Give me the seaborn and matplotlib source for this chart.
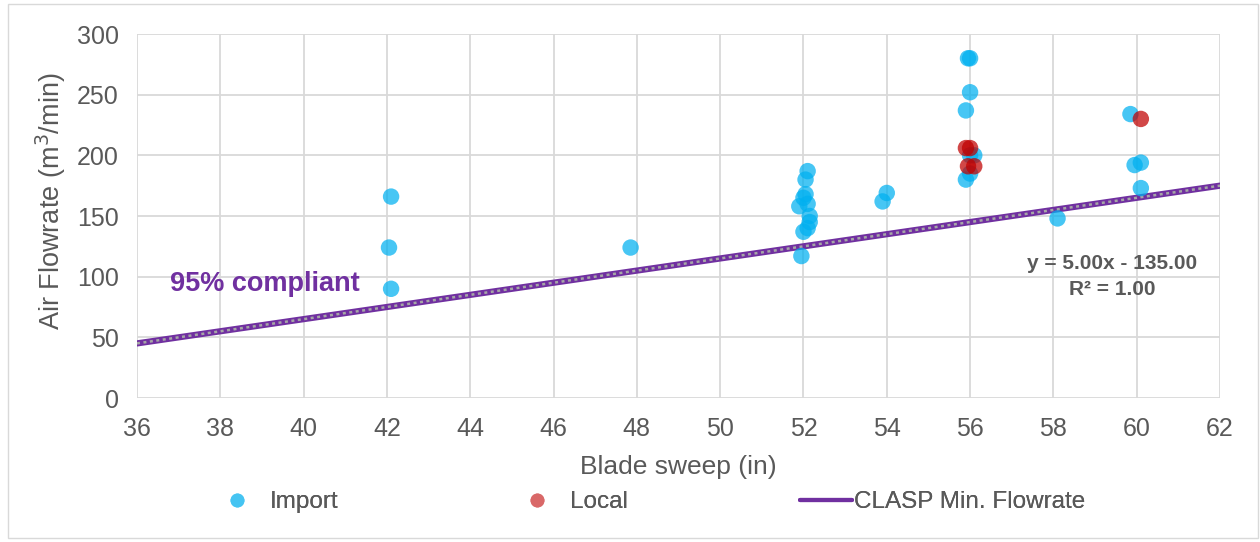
import pandas as pd
import matplotlib.pyplot as plt
import matplotlib.patches as mpatches
from matplotlib.lines import Line2D
import seaborn as sns

# blade sweep (in) / air flowrate (m3/min)
import_x = [42.1, 42.05, 42.1, 47.85,
            52.1, 52.05, 52.05, 52.0, 51.9, 52.1, 52.15, 52.15, 52.1, 52.0, 51.95,
            53.9, 54.0,
            55.95, 56.0, 56.0, 55.9, 56.0, 56.1, 56.0, 55.9,
            58.1, 59.85, 59.95, 60.1, 60.1]
import_y = [166, 124, 90, 124,
            187, 180, 168, 165, 158, 160, 150, 145, 140, 137, 117,
            162, 169,
            280, 280, 252, 237, 200, 200, 185, 180,
            148, 234, 192, 194, 173]
local_x = [55.9, 56.0, 55.95, 56.1, 60.1]
local_y = [206, 206, 191, 191, 230]

# CLASP minimum flowrate trendline
slope = 5.0
intercept = -135.0
line_x = [36, 62]

text_grey = '#595959'
purple = '#7030A0'
blue = '#00B0F0'
red = '#C00000'

sns.set_theme(style='whitegrid')
plt.rcParams['font.family'] = ['Liberation Sans', 'DejaVu Sans']

df = pd.DataFrame({
    'sweep': import_x + local_x,
    'flow': import_y + local_y,
    'origin': ['Import'] * len(import_x) + ['Local'] * len(local_x),
})
line_df = pd.DataFrame({'sweep': line_x,
                        'flow': [slope * x + intercept for x in line_x]})

fig = plt.figure(figsize=(12.6, 5.42), dpi=100)
ax = fig.add_axes([137 / 1260, 1 - 398 / 542, (1220 - 137) / 1260, (398 - 34) / 542])

sns.lineplot(data=line_df, x='sweep', y='flow', ax=ax, color=purple, lw=4.5,
             zorder=2)
sns.lineplot(data=line_df, x='sweep', y='flow', ax=ax, color='#A6A6A6', lw=1.8,
             linestyle=(0, (1.2, 1.4)), zorder=3)
sns.scatterplot(data=df, x='sweep', y='flow', hue='origin', ax=ax,
                palette={'Import': blue, 'Local': red},
                s=140, alpha=0.72, edgecolor='none', legend=False, zorder=4)

ax.set_xlim(36, 62)
ax.set_ylim(0, 300)
ax.set_xticks(range(36, 63, 2))
ax.set_yticks(range(0, 301, 50))
ax.grid(True, color='#D9D9D9', lw=1.3)
for s in ax.spines.values():
    s.set_visible(False)
ax.tick_params(axis='both', colors=text_grey, labelsize=18, length=0)
ax.tick_params(axis='y', pad=13)
ax.tick_params(axis='x', pad=14)
ax.set_xlabel('Blade sweep (in)', color=text_grey, fontsize=19, labelpad=10)
ax.set_ylabel('Air Flowrate (m$^3$/min)', color=text_grey, fontsize=19.5)
ax.yaxis.set_label_coords(-0.064, 0.54)

ax.text(36.8, 94, '95% compliant', color=purple, fontsize=19.5,
        fontweight='bold', va='center', ha='left')
ax.text(61.45, 100, 'y = 5.00x - 135.00\nR² = 1.00', color=text_grey,
        fontsize=15, fontweight='bold', ha='right', va='center',
        multialignment='center', linespacing=1.45)

# legend entries spaced the way the spreadsheet spreads them
entries = [
    (Line2D([], [], marker='o', ls='none', color='#45C4F2',
            markersize=10, markeredgewidth=0), 'Import', 225, 1.0, 0.86),
    (Line2D([], [], marker='o', ls='none', color='#D96868',
            markersize=10, markeredgewidth=0), 'Local', 525, 1.0, 0.86),
    (Line2D([], [], color=purple, lw=3), 'CLASP Min. Flowrate', 800, 2.14, 0.1),
]
for handle, label, left, hl, tp in entries:
    leg = fig.legend([handle], [label], loc='center left',
                     bbox_to_anchor=(left / 1260, 1 - 502 / 542),
                     frameon=False, fontsize=17.5, labelcolor=text_grey,
                     borderpad=0, borderaxespad=0, handlelength=hl,
                     handletextpad=tp)
    fig.add_artist(leg)

fig.patches.append(mpatches.Rectangle((8 / 1260, 4 / 542), 1250 / 1260, 534 / 542,
                                      transform=fig.transFigure, fill=False,
                                      edgecolor='#D9D9D9', lw=1))

fig.savefig('out.png', dpi=100)
